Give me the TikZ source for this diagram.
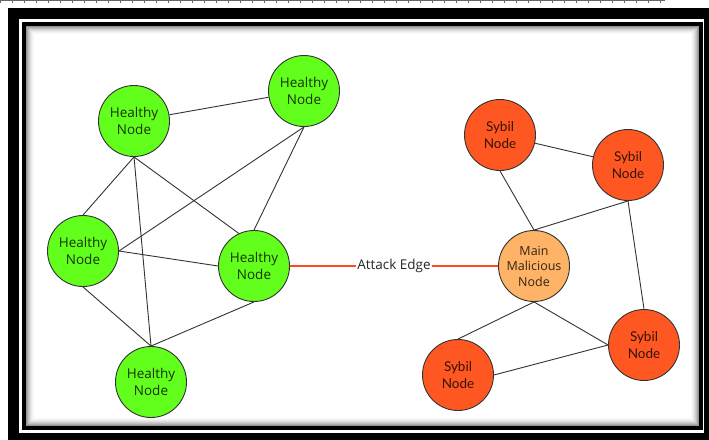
\documentclass[tikz,border=0pt]{standalone}
\usepackage{fontspec}
\setmainfont{Open Sans}
\newfontfamily\sybilfont{Lato}
\definecolor{healthy}{HTML}{63FF1C}
\definecolor{sybil}{HTML}{FF5722}
\definecolor{malicious}{HTML}{FFB366}
\definecolor{attack}{HTML}{FF4A1F}
\definecolor{edgegray}{HTML}{333333}
\tikzset{
  netnode/.style={circle, draw=edgegray, line width=0.9pt, minimum size=71pt,
    inner sep=0pt, align=center, font=\fontsize{13.5}{16.5}\selectfont,
    text=black, text opacity=0.8},
  healthynode/.style={netnode, fill=healthy},
  sybilnode/.style={netnode, fill=sybil, font=\sybilfont\fontsize{13.5}{16.5}\selectfont},
  mainnode/.style={netnode, fill=malicious, font=\fontsize{12.5}{15.5}\selectfont},
  link/.style={draw=edgegray, line width=0.9pt},
  attacklink/.style={draw=attack, line width=1.3pt},
}
\begin{document}
\begin{tikzpicture}[x=1pt, y=-1pt]
\useasboundingbox (0,0) rectangle (709,439);
\fill[white] (0,0) rectangle (709,439);
% ruler strip along the top edge
\draw[black!60, line width=0.6pt] (0,0.6) -- (665,0.6);
\foreach \t in {0,12,...,660} \draw[black!60, line width=0.6pt] (\t,0) -- (\t,3);
% outer heavy frame
\fill[black] (8,8) rectangle (712,442);
\fill[white] (19,19) rectangle (704,433);
\fill[black] (22,22) rectangle (703,430);
\fill[white] (26,26) rectangle (699,426);
% inner shadow of the panel
\foreach \i in {0,...,8}
  \draw[black, opacity={0.42*(1-\i/9)*(1-\i/9)}, line width=1pt]
    (26.5+\i,26.5+\i) rectangle (698.5-\i,425.5-\i);

% healthy cluster
\node[healthynode] (h1) at (134,121) {Healthy\\Node};
\node[healthynode] (h2) at (304,91)  {Healthy\\Node};
\node[healthynode] (h3) at (83,251)  {Healthy\\Node};
\node[healthynode] (h4) at (254,266) {Healthy\\Node};
\node[healthynode] (h5) at (151,382) {Healthy\\Node};

% sybil cluster
\node[mainnode]  (m)  at (534,266) {Main\\Malicious\\Node};
\node[sybilnode] (s1) at (500,135) {Sybil\\Node};
\node[sybilnode] (s2) at (628,165) {Sybil\\Node};
\node[sybilnode] (s3) at (458,375) {Sybil\\Node};
\node[sybilnode] (s4) at (644,345) {Sybil\\Node};

% healthy links
\draw[link] (h1) -- (h2);
\draw[link] (h1.south) -- (h3.north);
\draw[link] (h1.south) -- (h4.115);
\draw[link] (h1.south) -- (h5.north);
\draw[link] (h2.south) -- (h3.east);
\draw[link] (h2.south) -- (h4.north);
\draw[link] (h3.east) -- (h4.west);
\draw[link] (h3.south) -- (h5.north);
\draw[link] (h4.south) -- (h5.north);

% sybil links
\draw[link] (s1) -- (s2);
\draw[link] (s1.south) -- (m.north);
\draw[link] (s2.south) -- (m.north);
\draw[link] (s2.south) -- (s4.north);
\draw[link] (m.south) -- (s3.north);
\draw[link] (m.south) -- (s4.west);
\draw[link] (s3.east) -- (s4.west);

% attack edge
\draw[attacklink] (h4.east) -- node[fill=white, inner sep=1pt, text=black!85,
  font=\fontsize{13.5}{15}\selectfont] (lbl) {Attack Edge} (m.west);
\end{tikzpicture}
\end{document}
